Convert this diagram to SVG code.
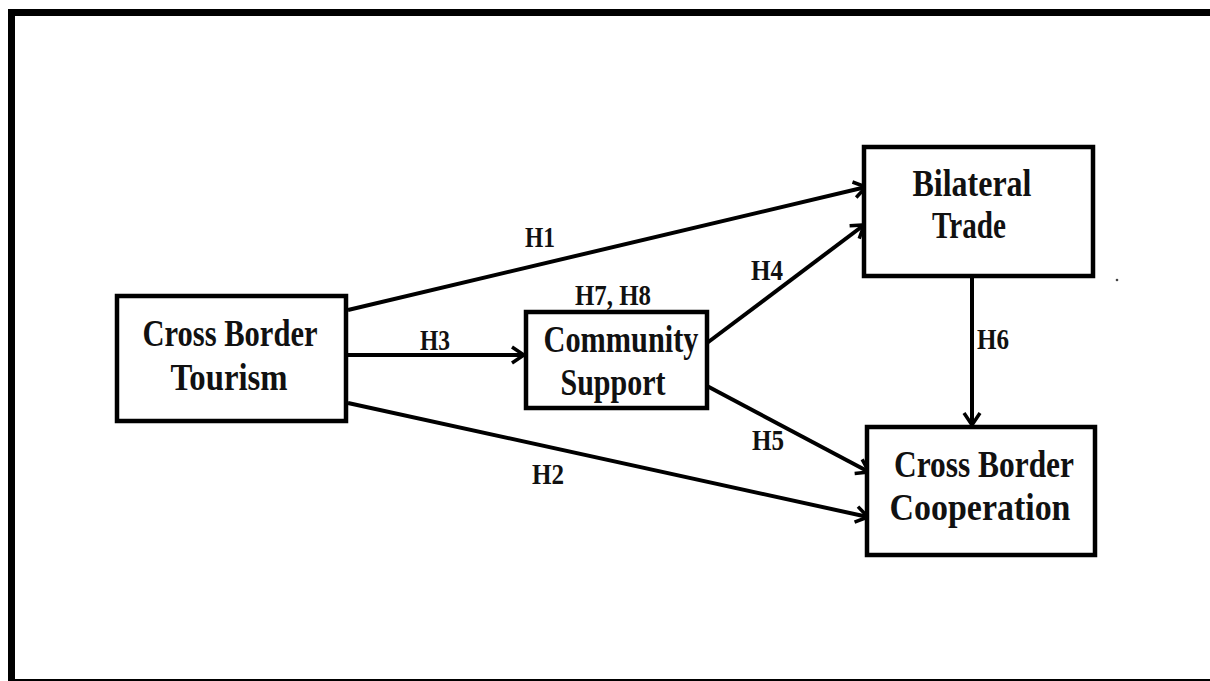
<svg xmlns="http://www.w3.org/2000/svg" width="1210" height="681" viewBox="0 0 1210 681">
  <style>
    .frame { fill: #ffffff; stroke: #000; stroke-width: 7; }
    .box { fill: #ffffff; stroke: #000; stroke-width: 4.5; }
    .node-text { font-family: "Liberation Serif", "Times New Roman", serif; font-weight: bold; font-size: 37px; fill: #111; text-anchor: middle; }
    .lbl { font-family: "Liberation Serif", "Times New Roman", serif; font-weight: bold; font-size: 30px; fill: #111; text-anchor: middle; }
    .edge { fill: none; stroke: #000; stroke-width: 4; marker-end: url(#arrow); }
  </style>
  <defs>
    <marker id="arrow" markerUnits="userSpaceOnUse" viewBox="0 0 20 20" refX="17" refY="10" markerWidth="20" markerHeight="20" orient="auto">
      <path d="M5,2 L17,10 L5,18" fill="none" stroke="#000" stroke-width="3.5" stroke-linejoin="miter"/>
    </marker>
  </defs>
  <rect x="0" y="0" width="1210" height="681" fill="#ffffff"/>
  <rect class="frame" x="11.5" y="12.5" width="1215" height="670"/>

  <g id="connectors">
    <line id="e-h1" class="edge" x1="348" y1="310" x2="866" y2="187"/>
    <line id="e-h2" class="edge" x1="348" y1="403" x2="868" y2="517"/>
    <line id="e-h3" class="edge" x1="345" y1="355" x2="524" y2="355"/>
    <line id="e-h4" class="edge" x1="707" y1="343" x2="864" y2="225"/>
    <line id="e-h5" class="edge" x1="707" y1="386" x2="869" y2="472"/>
    <line id="e-h6" class="edge" x1="972" y1="278" x2="972" y2="425"/>
    <text class="lbl" x="540" y="247" textLength="30" lengthAdjust="spacingAndGlyphs">H1</text>
    <text class="lbl" x="548" y="484" textLength="32" lengthAdjust="spacingAndGlyphs">H2</text>
    <text class="lbl" x="435" y="350" textLength="30" lengthAdjust="spacingAndGlyphs">H3</text>
    <text class="lbl" x="613" y="305" textLength="76" lengthAdjust="spacingAndGlyphs">H7, H8</text>
    <text class="lbl" x="767" y="280" textLength="32" lengthAdjust="spacingAndGlyphs">H4</text>
    <text class="lbl" x="768" y="450" textLength="32" lengthAdjust="spacingAndGlyphs">H5</text>
    <text class="lbl" x="993" y="349" textLength="32" lengthAdjust="spacingAndGlyphs">H6</text>
  </g>

  <g id="node-tourism">
    <rect class="box" x="117" y="296" width="229" height="125"/>
    <text class="node-text" x="230" y="346" textLength="175" lengthAdjust="spacingAndGlyphs">Cross Border</text>
    <text class="node-text" x="229" y="390" textLength="117" lengthAdjust="spacingAndGlyphs">Tourism</text>
  </g>

  <g id="node-community">
    <rect class="box" x="526" y="312" width="181" height="96"/>
    <text class="node-text" x="621" y="352" textLength="155" lengthAdjust="spacingAndGlyphs">Community</text>
    <text class="node-text" x="613" y="395" textLength="105" lengthAdjust="spacingAndGlyphs">Support</text>
  </g>

  <g id="node-trade">
    <rect class="box" x="864" y="147" width="229" height="129"/>
    <text class="node-text" x="972" y="196" textLength="119" lengthAdjust="spacingAndGlyphs">Bilateral</text>
    <text class="node-text" x="969" y="238" textLength="74" lengthAdjust="spacingAndGlyphs">Trade</text>
  </g>

  <g id="node-cooperation">
    <rect class="box" x="867" y="427" width="228" height="128"/>
    <text class="node-text" x="984" y="477" textLength="180" lengthAdjust="spacingAndGlyphs">Cross Border</text>
    <text class="node-text" x="980" y="520" textLength="181" lengthAdjust="spacingAndGlyphs">Cooperation</text>
  </g>

  <circle cx="1117" cy="280" r="1.3" fill="#444"/>
</svg>
